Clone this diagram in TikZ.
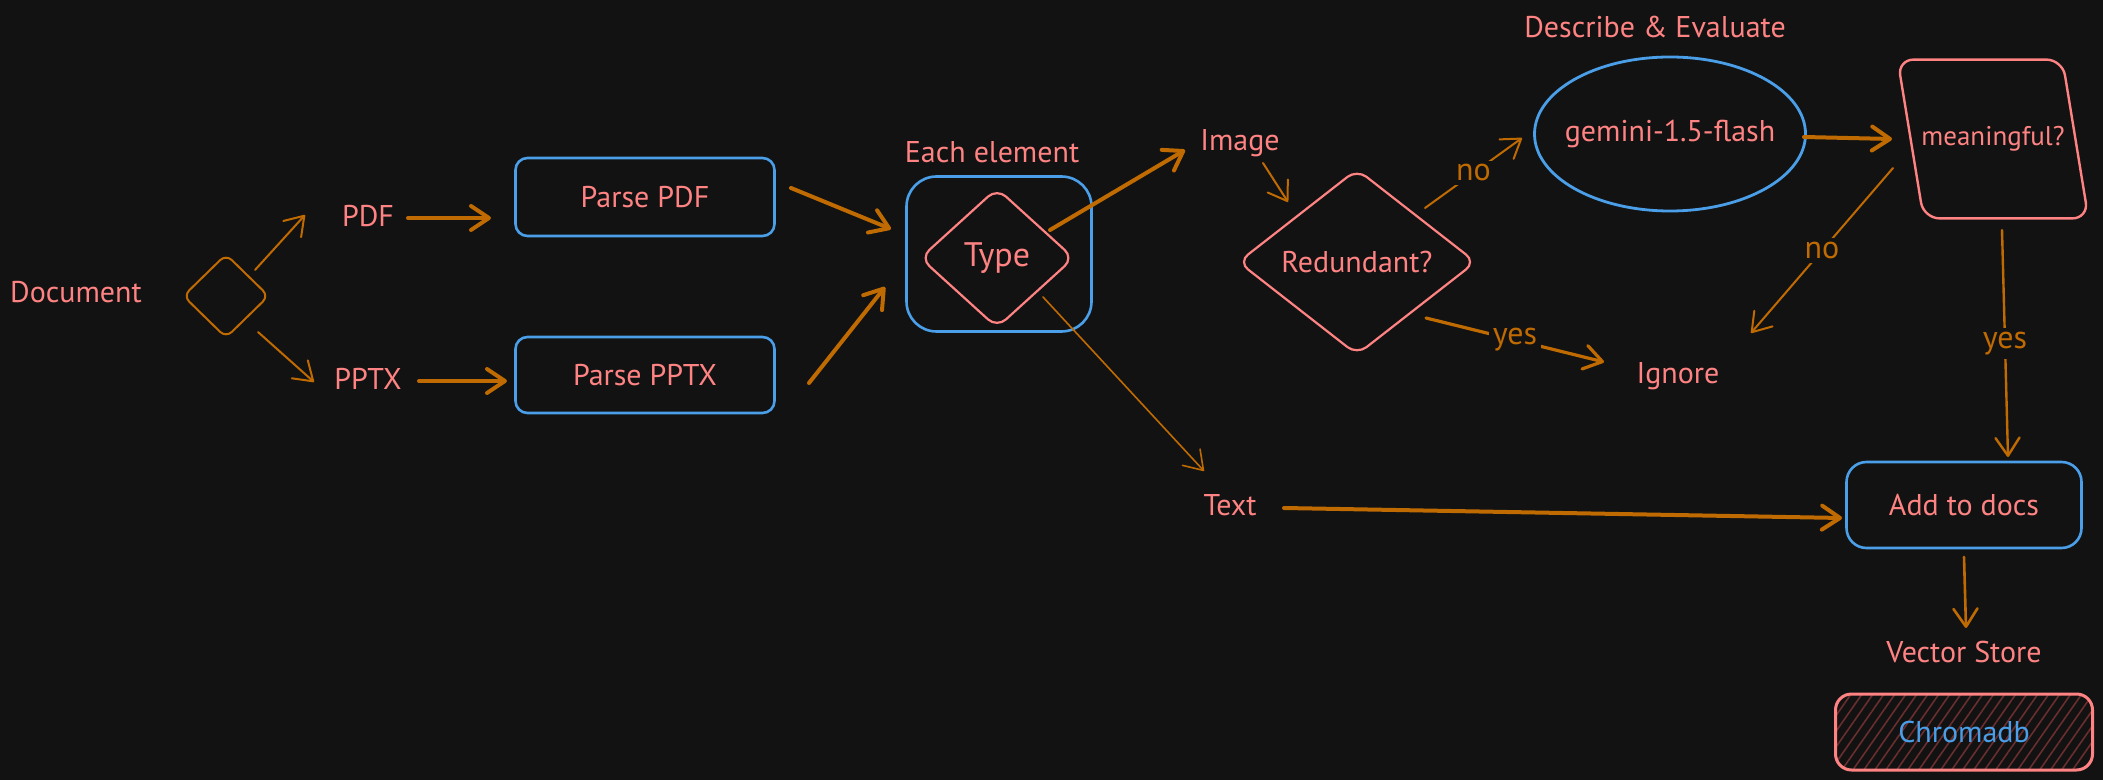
\documentclass[tikz,border=0pt]{standalone}
\usepackage{fontspec}
\setmainfont{PT Sans}
\usetikzlibrary{shapes.geometric,arrows.meta,patterns.meta}
\definecolor{bg}{HTML}{121212}
\definecolor{txt}{HTML}{FF8383}
\definecolor{blu}{HTML}{4A9FE8}
\definecolor{org}{HTML}{C06A02}
\definecolor{hatch}{HTML}{6A2E2E}
\begin{document}
\begin{tikzpicture}[x=0.5pt,y=-0.5pt,
  every node/.style={font=\fontsize{15}{18}\selectfont, text=txt},
  lbl/.style={inner sep=1pt},
  bbox/.style={draw=blu, line width=1.3pt, rounded corners=6pt, inner sep=0pt},
  pdia/.style={draw=txt, diamond, line width=1.1pt, rounded corners=6pt, inner sep=0pt},
  odia/.style={draw=org, diamond, line width=1pt, rounded corners=4pt, inner sep=0pt},
  pinkline/.style={draw=txt, line width=1.2pt},
  arr/.style={draw=org, line width=1pt, line cap=round, -{Straight Barb[length=9pt,width=12pt,round]}},
  thk/.style={line width=2pt},
  cl/.style={fill=bg, text=org, inner sep=2pt, font=\fontsize{16}{19}\selectfont},
  chroma/.style={draw=txt, line width=1.5pt, rounded corners=8pt, minimum width=128.5pt, minimum height=38pt,
     pattern={Lines[angle=55,distance=4.5pt,line width=0.8pt]}, pattern color=hatch}
]
\useasboundingbox[fill=bg] (0,0) rectangle (2103,780);

% nodes
\node[lbl] (doc) at (76,292) {Document};
\node[odia, minimum width=43pt, minimum height=42pt] (dia) at (226,296) {};
\node[lbl] (pdf) at (368,216) {PDF};
\node[lbl] (pptx) at (368,379) {PPTX};
\node[bbox, minimum width=129.5pt, minimum height=39pt] (ppdf) at (645,197) {Parse PDF};
\node[bbox, minimum width=129.5pt, minimum height=38pt] (ppptx) at (645,375) {Parse PPTX};
\node[lbl] (each) at (992,152) {Each element};
\node[bbox, rounded corners=15pt, minimum width=92.5pt, minimum height=77.5pt] (tbox) at (999,254) {};
\node[pdia, minimum width=77pt, minimum height=70pt, font=\fontsize{17}{20}\selectfont] (type) at (997,258) {Type};
\node[lbl] (image) at (1240,143) {Image};
\node[pdia, minimum width=119pt, minimum height=93pt] (red) at (1357,262) {Redundant?};
\node[lbl] (desc) at (1655,27) {Describe \& Evaluate};
\node[draw=blu, ellipse, line width=1.4pt, inner xsep=-15pt, inner ysep=0pt, minimum width=135.5pt, minimum height=77pt] (gem) at (1670,134) {gemini-1.5-flash};
\node[lbl, font=\fontsize{13.5}{16}\selectfont, minimum width=95pt, minimum height=79pt] (mean) at (1993,139) {meaningful?};
\draw[pinkline, rounded corners=8pt] (mean.north west) -- ([xshift=-13pt]mean.north east) -- (mean.south east) -- ([xshift=13pt]mean.south west) -- cycle;
\node[lbl] (ignore) at (1678,376) {Ignore};
\node[lbl] (txtn) at (1230,505) {Text};
\node[bbox, rounded corners=10pt, minimum width=117.5pt, minimum height=43pt] (add) at (1964,505) {Add to docs};
\node[lbl] (vs) at (1964,652) {Vector Store};
\node[chroma] (chroma) at (1964,732) {\textcolor{blu}{Chromadb}};

% connectors
\draw[arr] ([shift={(29,-26)}]dia.center) -- ([shift={(-63,-1)}]pdf.center);
\draw[arr] ([shift={(32,36)}]dia.center) -- ([shift={(-54,3)}]pptx.center);
\draw[arr,thk] ([shift={(40,2)}]pdf.center) -- ([shift={(-154,21)}]ppdf.center);
\draw[arr,thk] ([shift={(51,2)}]pptx.center) -- ([shift={(-138,6)}]ppptx.center);
\draw[arr,thk] ([shift={(146,-9)}]ppdf.center) -- ([shift={(-108,-25)}]tbox.center);
\draw[arr,thk] ([shift={(164,8)}]ppptx.center) -- ([shift={(-114,33)}]tbox.center);
\draw[arr,thk] ([shift={(53,-28)}]type.center) -- ([shift={(-55,7)}]image.center);
\draw[arr,line width=0.8pt] ([shift={(46,39)}]type.center) -- ([shift={(-26,-34)}]txtn.center);
\draw[arr] ([shift={(23,20)}]image.center) -- ([shift={(-69,-60)}]red.center);
\draw[arr] ([shift={(68,-54)}]red.center) -- node[cl] {no} ([shift={(-148,4)}]gem.center);
\draw[arr,line width=1.6pt] ([shift={(69,56)}]red.center) -- node[cl] {yes} ([shift={(-74,-14)}]ignore.center);
\draw[arr,thk] ([shift={(134,3)}]gem.center) -- ([shift={(-101,0)}]mean.center);
\draw[arr] ([shift={(-100,29)}]mean.center) -- node[cl] {no} ([shift={(73,-43)}]ignore.center);
\draw[arr,line width=1.2pt] ([shift={(9,91)}]mean.center) -- node[cl] {yes} ([shift={(44,-48)}]add.center);
\draw[arr,thk] ([shift={(54,3)}]txtn.center) -- ([shift={(-122,13)}]add.center);
\draw[arr,line width=1.3pt] ([shift={(0,52)}]add.center) -- ([shift={(2,-24)}]vs.center);
\end{tikzpicture}
\end{document}
